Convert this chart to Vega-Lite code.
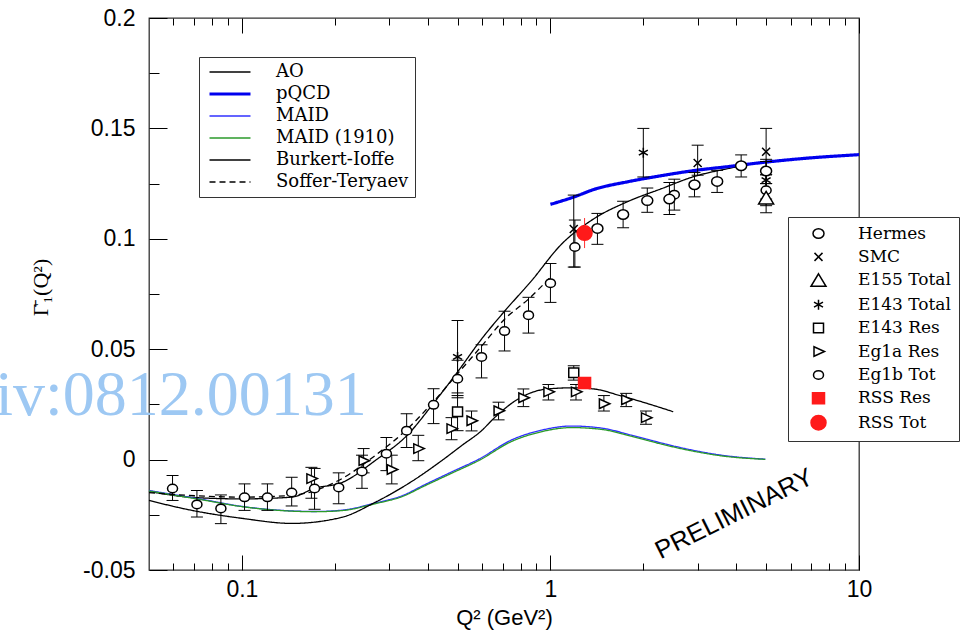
{
  "$schema": "https://vega.github.io/schema/vega-lite/v6.json",
  "width": 710,
  "height": 552,
  "autosize": {"type": "none"},
  "padding": {"left": 149, "top": 18, "right": 111, "bottom": 63},
  "background": "white",
  "config": {
    "view": {"stroke": "#333333", "strokeWidth": 1.3},
    "font": "Liberation Sans",
    "axis": {"domain": false, "grid": false, "tickColor": "black", "tickWidth": 1, "labelFont": "Liberation Sans", "labelFontSize": 23, "labelColor": "black", "labelFlush": false, "labelOverlap": false}
  },
  "resolve": {"axis": {"x": "independent", "y": "independent"}},
  "datasets": {
    "curves": [
      {"model": "AO", "q2": 0.05, "g": -0.0144}, {"model": "AO", "q2": 0.0689, "g": -0.0171}, {"model": "AO", "q2": 0.1, "g": -0.0178}, {"model": "AO", "q2": 0.145, "g": -0.017}, {"model": "AO", "q2": 0.172, "g": -0.013}, {"model": "AO", "q2": 0.211, "g": -0.0104}, {"model": "AO", "q2": 0.27, "g": -0.0005}, {"model": "AO", "q2": 0.347, "g": 0.0117}, {"model": "AO", "q2": 0.412, "g": 0.0244}, {"model": "AO", "q2": 0.503, "g": 0.0402}, {"model": "AO", "q2": 0.598, "g": 0.0546}, {"model": "AO", "q2": 0.71, "g": 0.0672}, {"model": "AO", "q2": 0.866, "g": 0.0808}, {"model": "AO", "q2": 1.085, "g": 0.0975}, {"model": "AO", "q2": 1.38, "g": 0.109}, {"model": "AO", "q2": 1.79, "g": 0.117}, {"model": "AO", "q2": 2.29, "g": 0.1227}, {"model": "AO", "q2": 2.92, "g": 0.1282}, {"model": "AO", "q2": 3.76, "g": 0.1318}, {"model": "AO", "q2": 5.0, "g": 0.135},
      {"model": "pQCD", "q2": 1.0, "g": 0.1156}, {"model": "pQCD", "q2": 1.2, "g": 0.1191}, {"model": "pQCD", "q2": 1.38, "g": 0.1223}, {"model": "pQCD", "q2": 1.79, "g": 0.1259}, {"model": "pQCD", "q2": 2.29, "g": 0.1286}, {"model": "pQCD", "q2": 2.92, "g": 0.1309}, {"model": "pQCD", "q2": 3.76, "g": 0.1327}, {"model": "pQCD", "q2": 4.83, "g": 0.1345}, {"model": "pQCD", "q2": 6.5, "g": 0.1363}, {"model": "pQCD", "q2": 10, "g": 0.1381},
      {"model": "MAID", "q2": 0.05, "g": -0.014}, {"model": "MAID", "q2": 0.0742, "g": -0.018}, {"model": "MAID", "q2": 0.1, "g": -0.0212}, {"model": "MAID", "q2": 0.1347, "g": -0.023}, {"model": "MAID", "q2": 0.172, "g": -0.0235}, {"model": "MAID", "q2": 0.211, "g": -0.0229}, {"model": "MAID", "q2": 0.27, "g": -0.0197}, {"model": "MAID", "q2": 0.33, "g": -0.0164}, {"model": "MAID", "q2": 0.391, "g": -0.0114}, {"model": "MAID", "q2": 0.478, "g": -0.0056}, {"model": "MAID", "q2": 0.588, "g": 0.0003}, {"model": "MAID", "q2": 0.748, "g": 0.0089}, {"model": "MAID", "q2": 0.94, "g": 0.0134}, {"model": "MAID", "q2": 1.17, "g": 0.0152}, {"model": "MAID", "q2": 1.46, "g": 0.0143}, {"model": "MAID", "q2": 1.83, "g": 0.0111}, {"model": "MAID", "q2": 2.29, "g": 0.0075}, {"model": "MAID", "q2": 2.86, "g": 0.0044}, {"model": "MAID", "q2": 3.58, "g": 0.002}, {"model": "MAID", "q2": 4.97, "g": 0.0002},
      {"model": "MAID (1910)", "q2": 0.05, "g": -0.0142}, {"model": "MAID (1910)", "q2": 0.0742, "g": -0.0182}, {"model": "MAID (1910)", "q2": 0.1, "g": -0.0213}, {"model": "MAID (1910)", "q2": 0.1347, "g": -0.0231}, {"model": "MAID (1910)", "q2": 0.172, "g": -0.0236}, {"model": "MAID (1910)", "q2": 0.211, "g": -0.0231}, {"model": "MAID (1910)", "q2": 0.27, "g": -0.02}, {"model": "MAID (1910)", "q2": 0.33, "g": -0.0168}, {"model": "MAID (1910)", "q2": 0.391, "g": -0.0119}, {"model": "MAID (1910)", "q2": 0.478, "g": -0.0062}, {"model": "MAID (1910)", "q2": 0.588, "g": -0.0003}, {"model": "MAID (1910)", "q2": 0.748, "g": 0.0082}, {"model": "MAID (1910)", "q2": 0.94, "g": 0.0127}, {"model": "MAID (1910)", "q2": 1.17, "g": 0.0145}, {"model": "MAID (1910)", "q2": 1.46, "g": 0.0137}, {"model": "MAID (1910)", "q2": 1.83, "g": 0.0106}, {"model": "MAID (1910)", "q2": 2.29, "g": 0.007}, {"model": "MAID (1910)", "q2": 2.86, "g": 0.004}, {"model": "MAID (1910)", "q2": 3.58, "g": 0.0017}, {"model": "MAID (1910)", "q2": 4.97, "g": 0.0001},
      {"model": "Burkert-Ioffe", "q2": 0.05, "g": -0.0185}, {"model": "Burkert-Ioffe", "q2": 0.0689, "g": -0.023}, {"model": "Burkert-Ioffe", "q2": 0.1, "g": -0.0266}, {"model": "Burkert-Ioffe", "q2": 0.145, "g": -0.0289}, {"model": "Burkert-Ioffe", "q2": 0.21, "g": -0.0262}, {"model": "Burkert-Ioffe", "q2": 0.27, "g": -0.0194}, {"model": "Burkert-Ioffe", "q2": 0.347, "g": -0.0108}, {"model": "Burkert-Ioffe", "q2": 0.444, "g": -0.0005}, {"model": "Burkert-Ioffe", "q2": 0.515, "g": 0.0063}, {"model": "Burkert-Ioffe", "q2": 0.598, "g": 0.0131}, {"model": "Burkert-Ioffe", "q2": 0.659, "g": 0.019}, {"model": "Burkert-Ioffe", "q2": 0.787, "g": 0.0275}, {"model": "Burkert-Ioffe", "q2": 0.978, "g": 0.032}, {"model": "Burkert-Ioffe", "q2": 1.17, "g": 0.0325}, {"model": "Burkert-Ioffe", "q2": 1.38, "g": 0.032}, {"model": "Burkert-Ioffe", "q2": 1.69, "g": 0.0289}, {"model": "Burkert-Ioffe", "q2": 2.5, "g": 0.0217},
      {"model": "Soffer-Teryaev", "q2": 0.05, "g": -0.015}, {"model": "Soffer-Teryaev", "q2": 0.1, "g": -0.017}, {"model": "Soffer-Teryaev", "q2": 0.145, "g": -0.0162}, {"model": "Soffer-Teryaev", "q2": 0.211, "g": -0.0086}, {"model": "Soffer-Teryaev", "q2": 0.27, "g": 0.0018}, {"model": "Soffer-Teryaev", "q2": 0.347, "g": 0.0144}, {"model": "Soffer-Teryaev", "q2": 0.412, "g": 0.0253}, {"model": "Soffer-Teryaev", "q2": 0.503, "g": 0.0393}, {"model": "Soffer-Teryaev", "q2": 0.598, "g": 0.0514}, {"model": "Soffer-Teryaev", "q2": 0.71, "g": 0.0636}, {"model": "Soffer-Teryaev", "q2": 0.849, "g": 0.0727}, {"model": "Soffer-Teryaev", "q2": 1.0, "g": 0.0826}
    ],
    "points": [
      {"ds": "Eg1b Tot", "q2": 0.0596, "g": -0.0131, "lo": -0.0185, "hi": -0.0072},
      {"ds": "Eg1b Tot", "q2": 0.0715, "g": -0.0203, "lo": -0.026, "hi": -0.014},
      {"ds": "Eg1b Tot", "q2": 0.0855, "g": -0.0221, "lo": -0.029, "hi": -0.016},
      {"ds": "Eg1b Tot", "q2": 0.102, "g": -0.0171, "lo": -0.023, "hi": -0.011},
      {"ds": "Eg1b Tot", "q2": 0.121, "g": -0.0171, "lo": -0.023, "hi": -0.011},
      {"ds": "Eg1b Tot", "q2": 0.145, "g": -0.0149, "lo": -0.021, "hi": -0.008},
      {"ds": "Eg1b Tot", "q2": 0.172, "g": -0.0131, "lo": -0.0225, "hi": -0.004},
      {"ds": "Eg1b Tot", "q2": 0.206, "g": -0.0126, "lo": -0.02, "hi": -0.006},
      {"ds": "Eg1b Tot", "q2": 0.245, "g": -0.0054, "lo": -0.013, "hi": 0.002},
      {"ds": "Eg1b Tot", "q2": 0.294, "g": 0.0027, "lo": -0.005, "hi": 0.01},
      {"ds": "Eg1b Tot", "q2": 0.342, "g": 0.0131, "lo": 0.0055, "hi": 0.0208},
      {"ds": "Eg1b Tot", "q2": 0.418, "g": 0.0248, "lo": 0.0163, "hi": 0.0321},
      {"ds": "Eg1b Tot", "q2": 0.5, "g": 0.0366, "lo": 0.028, "hi": 0.045},
      {"ds": "Eg1b Tot", "q2": 0.598, "g": 0.0465, "lo": 0.037, "hi": 0.052},
      {"ds": "Eg1b Tot", "q2": 0.71, "g": 0.0582, "lo": 0.0492, "hi": 0.0672},
      {"ds": "Eg1b Tot", "q2": 0.849, "g": 0.0654, "lo": 0.0573, "hi": 0.0735},
      {"ds": "Eg1b Tot", "q2": 1.0, "g": 0.0799, "lo": 0.0712, "hi": 0.0888},
      {"ds": "Eg1b Tot", "q2": 1.2, "g": 0.0963, "lo": 0.0872, "hi": 0.1085},
      {"ds": "Eg1b Tot", "q2": 2.52, "g": 0.12, "lo": 0.113, "hi": 0.127},
      {"ds": "Eg1b Tot", "q2": 5.0, "g": 0.122, "lo": 0.115, "hi": 0.129},
      {"ds": "Hermes", "q2": 1.42, "g": 0.1047, "lo": 0.0975, "hi": 0.1115},
      {"ds": "Hermes", "q2": 1.72, "g": 0.111, "lo": 0.105, "hi": 0.117},
      {"ds": "Hermes", "q2": 2.06, "g": 0.1173, "lo": 0.112, "hi": 0.123},
      {"ds": "Hermes", "q2": 2.43, "g": 0.118, "lo": 0.111, "hi": 0.1255},
      {"ds": "Hermes", "q2": 2.93, "g": 0.1245, "lo": 0.119, "hi": 0.13},
      {"ds": "Hermes", "q2": 3.47, "g": 0.126, "lo": 0.121, "hi": 0.131},
      {"ds": "Hermes", "q2": 4.15, "g": 0.1331, "lo": 0.128, "hi": 0.138},
      {"ds": "Hermes", "q2": 5.0, "g": 0.1307, "lo": 0.125, "hi": 0.136},
      {"ds": "SMC", "q2": 1.19, "g": 0.1044, "lo": 0.0872, "hi": 0.1198},
      {"ds": "SMC", "q2": 3.0, "g": 0.1343, "lo": 0.1288, "hi": 0.1424},
      {"ds": "SMC", "q2": 5.0, "g": 0.1394, "lo": 0.129, "hi": 0.15},
      {"ds": "E155 Total", "q2": 5.0, "g": 0.1185, "lo": 0.1118, "hi": 0.125},
      {"ds": "E143 Total", "q2": 0.5, "g": 0.0465, "lo": 0.029, "hi": 0.063},
      {"ds": "E143 Total", "q2": 2.0, "g": 0.139, "lo": 0.128, "hi": 0.15},
      {"ds": "E143 Total", "q2": 5.0, "g": 0.1266, "lo": 0.118, "hi": 0.135},
      {"ds": "E143 Res", "q2": 0.5, "g": 0.0217, "lo": 0.0131, "hi": 0.0302},
      {"ds": "E143 Res", "q2": 1.19, "g": 0.0393, "lo": 0.036, "hi": 0.0425},
      {"ds": "Eg1a Res", "q2": 0.168, "g": -0.0086, "lo": -0.0175, "hi": -0.0035},
      {"ds": "Eg1a Res", "q2": 0.248, "g": -0.0005, "lo": -0.006, "hi": 0.005},
      {"ds": "Eg1a Res", "q2": 0.306, "g": -0.0045, "lo": -0.011, "hi": 0.002},
      {"ds": "Eg1a Res", "q2": 0.373, "g": 0.005, "lo": -0.0005, "hi": 0.011},
      {"ds": "Eg1a Res", "q2": 0.478, "g": 0.014, "lo": 0.009, "hi": 0.019},
      {"ds": "Eg1a Res", "q2": 0.555, "g": 0.0176, "lo": 0.013, "hi": 0.022},
      {"ds": "Eg1a Res", "q2": 0.679, "g": 0.0221, "lo": 0.018, "hi": 0.026},
      {"ds": "Eg1a Res", "q2": 0.817, "g": 0.028, "lo": 0.024, "hi": 0.032},
      {"ds": "Eg1a Res", "q2": 0.985, "g": 0.0307, "lo": 0.027, "hi": 0.034},
      {"ds": "Eg1a Res", "q2": 1.21, "g": 0.0307, "lo": 0.027, "hi": 0.034},
      {"ds": "Eg1a Res", "q2": 1.49, "g": 0.0253, "lo": 0.022, "hi": 0.029},
      {"ds": "Eg1a Res", "q2": 1.76, "g": 0.0271, "lo": 0.024, "hi": 0.03},
      {"ds": "Eg1a Res", "q2": 2.04, "g": 0.019, "lo": 0.016, "hi": 0.022},
      {"ds": "RSS Res", "q2": 1.29, "g": 0.0347},
      {"ds": "RSS Tot", "q2": 1.29, "g": 0.1026, "lo": 0.0958, "hi": 0.1094}
    ],
    "notes": [
      {"label": "PRELIMINARY", "q2": 3.94, "g": -0.0246},
      {"label": "iv:0812.00131", "q2": 0.2538, "g": 0.0202}
    ]
  },
  "layer": [
    {
      "mark": {"type": "rule", "color": "black", "strokeWidth": 1},
      "encoding": {
        "y": {"datum": 0, "type": "quantitative", "scale": {"domain": [-0.05, 0.2], "nice": false, "zero": false}, "axis": null}
      }
    },
    {
      "data": {"name": "curves"},
      "transform": [{"filter": "datum.model !== 'pQCD'"}],
      "mark": {"type": "line", "interpolate": "monotone", "strokeWidth": 1.3},
      "encoding": {
        "x": {"field": "q2", "type": "quantitative", "scale": {"type": "log", "domain": [0.05, 10], "nice": false},
          "axis": {"orient": "bottom", "values": [0.1, 1, 10], "tickSize": -15, "labelPadding": 23, "labelExpr": "'' + datum.value", "title": "Q² (GeV²)", "titleFont": "Liberation Sans", "titleFontSize": 22, "titleFontWeight": "normal", "titleColor": "black", "titleY": 54, "titleBaseline": "alphabetic"}},
        "y": {"field": "g", "type": "quantitative", "scale": {"domain": [-0.05, 0.2], "nice": false, "zero": false},
          "axis": {"orient": "left", "values": [-0.05, 0, 0.05, 0.1, 0.15, 0.2], "tickSize": -18, "labelPadding": 32, "labelExpr": "'' + datum.value", "title": "Γ̄₁(Q²)", "titleFont": "Liberation Serif", "titleFontSize": 22, "titleFontWeight": "normal", "titleColor": "black", "titleAngle": -90, "titleX": -109, "titleY": 269, "titleAlign": "center", "titleBaseline": "middle"}},
        "color": {"field": "model", "type": "nominal",
          "scale": {"domain": ["AO", "pQCD", "MAID", "MAID (1910)", "Burkert-Ioffe", "Soffer-Teryaev"], "range": ["black", "#0000ee", "#3030ff", "#2a9a2a", "black", "black"]},
          "legend": {"orient": "none", "legendX": 50, "legendY": 39, "title": null, "strokeColor": "#333333", "fillColor": "white", "padding": 6, "labelFont": "DejaVu Serif", "labelFontSize": 18, "labelColor": "black", "symbolType": "M-2,0L2,0", "symbolSize": 420, "symbolStrokeWidth": 1.3, "symbolOffset": 16, "labelOffset": 37, "rowPadding": 4,
            "encode": {"symbols": {"update": {"strokeWidth": {"signal": "datum.value === 'pQCD' ? 3.2 : 1.3"}}}}}},
        "strokeDash": {"field": "model", "type": "nominal",
          "scale": {"domain": ["AO", "pQCD", "MAID", "MAID (1910)", "Burkert-Ioffe", "Soffer-Teryaev"], "range": [[1, 0], [1, 0], [1, 0], [1, 0], [1, 0], [6, 4]]}}
      }
    },
    {
      "data": {"name": "curves"},
      "transform": [{"filter": "datum.model === 'pQCD'"}],
      "mark": {"type": "line", "interpolate": "monotone", "strokeWidth": 3.2},
      "encoding": {
        "x": {"field": "q2", "type": "quantitative", "scale": {"type": "log", "domain": [0.05, 10], "nice": false}, "axis": null},
        "y": {"field": "g", "type": "quantitative", "scale": {"domain": [-0.05, 0.2], "nice": false, "zero": false}, "axis": null},
        "color": {"field": "model", "type": "nominal",
          "scale": {"domain": ["AO", "pQCD", "MAID", "MAID (1910)", "Burkert-Ioffe", "Soffer-Teryaev"], "range": ["black", "#0000ee", "#3030ff", "#2a9a2a", "black", "black"]},
          "legend": {"orient": "none", "legendX": 50, "legendY": 39, "title": null, "strokeColor": "#333333", "fillColor": "white", "padding": 6, "labelFont": "DejaVu Serif", "labelFontSize": 18, "labelColor": "black", "symbolType": "M-2,0L2,0", "symbolSize": 420, "symbolStrokeWidth": 1.3, "symbolOffset": 16, "labelOffset": 37, "rowPadding": 4,
            "encode": {"symbols": {"update": {"strokeWidth": {"signal": "datum.value === 'pQCD' ? 3.2 : 1.3"}}}}}},
        "strokeDash": {"field": "model", "type": "nominal",
          "scale": {"domain": ["AO", "pQCD", "MAID", "MAID (1910)", "Burkert-Ioffe", "Soffer-Teryaev"], "range": [[1, 0], [1, 0], [1, 0], [1, 0], [1, 0], [6, 4]]}}
      }
    },
    {
      "data": {"name": "points"},
      "transform": [{"filter": "isValid(datum.lo)"}],
      "mark": {"type": "rule", "strokeWidth": 1},
      "encoding": {
        "x": {"field": "q2", "type": "quantitative", "scale": {"type": "log", "domain": [0.05, 10], "nice": false},
          "axis": {"orient": "bottom", "values": [0.06, 0.07, 0.08, 0.09, 0.2, 0.3, 0.4, 0.5, 0.6, 0.7, 0.8, 0.9, 2, 3, 4, 5, 6, 7, 8, 9], "tickSize": -7, "labels": false, "title": null}},
        "y": {"field": "lo", "type": "quantitative", "scale": {"domain": [-0.05, 0.2], "nice": false, "zero": false},
          "axis": {"orient": "left", "values": [-0.025, 0.025, 0.075, 0.125, 0.175], "tickSize": -10, "labels": false, "title": null}},
        "y2": {"field": "hi"},
        "color": {"condition": {"test": "datum.ds === 'RSS Tot'", "value": "#ff3030"}, "value": "black"}
      }
    },
    {
      "data": {"name": "points"},
      "transform": [{"filter": "isValid(datum.lo) && datum.ds !== 'RSS Tot'"}],
      "mark": {"type": "tick", "orient": "horizontal", "size": 12, "thickness": 1, "color": "black", "opacity": 1},
      "encoding": {
        "x": {"field": "q2", "type": "quantitative", "scale": {"type": "log", "domain": [0.05, 10], "nice": false},
          "axis": {"orient": "top", "values": [0.1, 1, 10], "tickSize": -15, "labels": false, "title": null}},
        "y": {"field": "lo", "type": "quantitative", "scale": {"domain": [-0.05, 0.2], "nice": false, "zero": false}, "axis": null}
      }
    },
    {
      "data": {"name": "points"},
      "transform": [{"filter": "isValid(datum.hi) && datum.ds !== 'RSS Tot'"}],
      "mark": {"type": "tick", "orient": "horizontal", "size": 12, "thickness": 1, "color": "black", "opacity": 1},
      "encoding": {
        "x": {"field": "q2", "type": "quantitative", "scale": {"type": "log", "domain": [0.05, 10], "nice": false},
          "axis": {"orient": "top", "values": [0.06, 0.07, 0.08, 0.09, 0.2, 0.3, 0.4, 0.5, 0.6, 0.7, 0.8, 0.9, 2, 3, 4, 5, 6, 7, 8, 9], "tickSize": -7, "labels": false, "title": null}},
        "y": {"field": "hi", "type": "quantitative", "scale": {"domain": [-0.05, 0.2], "nice": false, "zero": false}, "axis": null}
      }
    },
    {
      "data": {"name": "points"},
      "mark": {"type": "point", "size": 100, "strokeWidth": 1.5, "opacity": 1},
      "encoding": {
        "x": {"field": "q2", "type": "quantitative", "scale": {"type": "log", "domain": [0.05, 10], "nice": false}, "axis": null},
        "y": {"field": "g", "type": "quantitative", "scale": {"domain": [-0.05, 0.2], "nice": false, "zero": false}, "axis": null},
        "shape": {"field": "ds", "type": "nominal",
          "scale": {"domain": ["Hermes", "SMC", "E155 Total", "E143 Total", "E143 Res", "Eg1a Res", "Eg1b Tot", "RSS Res", "RSS Tot"],
            "range": ["M1.1,0A1.1,0.95 0 1,1 -1.1,0A1.1,0.95 0 1,1 1.1,0Z", "M-0.8,-0.8L0.8,0.8M-0.8,0.8L0.8,-0.8", "M0,-1.3L1.5,1.2L-1.5,1.2Z", "M0,-1L0,1M-0.9,-0.5L0.9,0.5M-0.9,0.5L0.9,-0.5", "M-1,-0.95L1,-0.95L1,0.95L-1,0.95Z", "M-0.9,-0.95L1.2,0L-0.9,0.95Z", "M1,0A1,0.85 0 1,1 -1,0A1,0.85 0 1,1 1,0Z", "M-1.2,-1.1L1.2,-1.1L1.2,1.1L-1.2,1.1Z", "M1.5,0A1.5,1.45 0 1,1 -1.5,0A1.5,1.45 0 1,1 1.5,0Z"]},
          "legend": {"orient": "none", "legendX": 639, "legendY": 199, "title": null, "strokeColor": "#333333", "fillColor": "white", "padding": 8, "labelFont": "DejaVu Serif", "labelFontSize": 17, "labelColor": "black", "symbolSize": 100, "symbolStrokeWidth": 1.5, "symbolOffset": 14, "labelOffset": 31, "rowPadding": 5.4}},
        "fill": {"field": "ds", "type": "nominal",
          "scale": {"domain": ["Hermes", "SMC", "E155 Total", "E143 Total", "E143 Res", "Eg1a Res", "Eg1b Tot", "RSS Res", "RSS Tot"],
            "range": ["white", "white", "white", "white", "white", "white", "white", "#ff1a1a", "#ff1a1a"]}},
        "stroke": {"field": "ds", "type": "nominal",
          "scale": {"domain": ["Hermes", "SMC", "E155 Total", "E143 Total", "E143 Res", "Eg1a Res", "Eg1b Tot", "RSS Res", "RSS Tot"],
            "range": ["black", "black", "black", "black", "black", "black", "black", "#ff1a1a", "#ff1a1a"]}}
      }
    },
    {
      "data": {"name": "notes"},
      "transform": [{"filter": "datum.label === 'PRELIMINARY'"}],
      "mark": {"type": "text", "font": "Liberation Sans", "fontSize": 25.5, "angle": -26.5, "align": "center", "baseline": "middle", "color": "black"},
      "encoding": {
        "x": {"field": "q2", "type": "quantitative", "scale": {"type": "log", "domain": [0.05, 10], "nice": false}, "axis": null},
        "y": {"field": "g", "type": "quantitative", "scale": {"domain": [-0.05, 0.2], "nice": false, "zero": false}, "axis": null},
        "text": {"field": "label"}
      }
    },
    {
      "data": {"name": "notes"},
      "transform": [{"filter": "datum.label !== 'PRELIMINARY'"}],
      "mark": {"type": "text", "font": "Liberation Serif", "fontSize": 64, "align": "right", "baseline": "alphabetic", "color": "#9dc8f3"},
      "encoding": {
        "x": {"field": "q2", "type": "quantitative", "scale": {"type": "log", "domain": [0.05, 10], "nice": false}, "axis": null},
        "y": {"field": "g", "type": "quantitative", "scale": {"domain": [-0.05, 0.2], "nice": false, "zero": false}, "axis": null},
        "text": {"field": "label"}
      }
    }
  ]
}
